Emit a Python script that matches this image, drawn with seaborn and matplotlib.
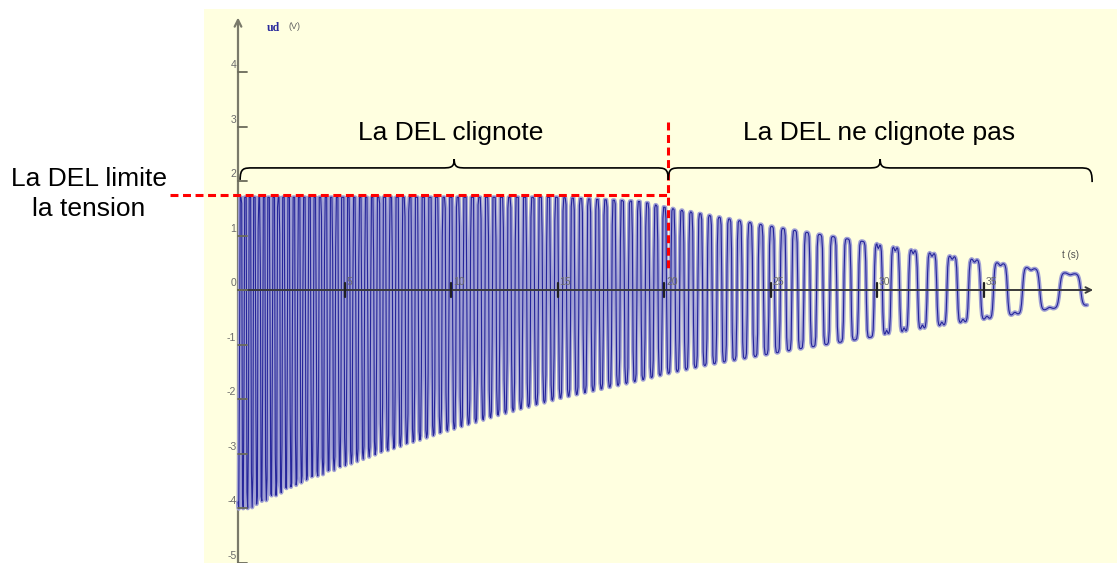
import numpy as np
import pandas as pd
import matplotlib
matplotlib.use("Agg")
import matplotlib.pyplot as plt
import seaborn as sns
from matplotlib.patches import Rectangle, PathPatch
from matplotlib.path import Path

# ---------------- data ----------------
# envelope of ud(t): time (s), upper and lower extremes (V)
env_t = [0.0, 0.6, 3.2, 6.3, 9.4, 12.2, 15.0, 19.0, 20.0, 22.7, 26.2, 30.0, 33.3, 35.6, 37.0, 38.5, 39.9]
env_upper = [1.70, 1.70, 1.70, 1.70, 1.70, 1.70, 1.70, 1.62, 1.52, 1.33, 1.09, 0.85, 0.64, 0.51, 0.42, 0.33, 0.28]
env_lower = [-4.05, -4.00, -3.50, -3.04, -2.64, -2.30, -2.00, -1.65, -1.55, -1.32, -1.06, -0.82, -0.62, -0.49, -0.40, -0.29, -0.27]
# local oscillation period (s) read from peak spacing
period_t = [0.0, 5.0, 10.0, 15.0, 20.0, 23.0, 26.0, 29.0, 30.5, 32.5, 34.0, 35.2, 36.5, 38.5, 40.0]
period_s = [0.21, 0.27, 0.33, 0.38, 0.40, 0.47, 0.55, 0.70, 0.80, 0.90, 1.03, 1.22, 1.41, 1.97, 2.0]
peak_ref_t = 30.06          # one peak centre read on the picture
t_end = 39.9
y_ticks = [-5, -4, -3, -2, -1, 0, 1, 2, 3, 4]
x_ticks = [5, 10, 15, 20, 25, 30, 35]
clip_level = 1.75           # red dashed line: LED limits the voltage
split_t = 20.2              # red dashed vertical separator

# ---------------- build the sampled signal ----------------
dt = 0.035
tt = np.arange(0.0, t_end, dt)
per = np.interp(tt, period_t, period_s)
phase = np.cumsum(dt / per)
phase -= np.interp(peak_ref_t, tt, phase)
theta = 2 * np.pi * phase + np.pi / 2
up = np.interp(tt, env_t, env_upper)
lo = np.interp(tt, env_t, env_lower)
amp = np.maximum(-lo, up)
k = np.interp(tt, [0, 15, 24, 40], [2.2, 2.4, 3.0, 3.5])
s = np.tanh(k * np.sin(theta)) / np.tanh(k)
s = s - 0.10 * np.sign(np.sin(theta)) * np.abs(np.sin(theta)) ** 10 * (tt > 30)
ud = np.minimum(amp * s, up)
df = pd.DataFrame({"t": tt, "ud": ud})

# ---------------- figure ----------------
sns.set_style("white")
plt.rcParams["font.family"] = ["Liberation Sans", "DejaVu Sans"]
plt.rcParams["text.color"] = "black"

W, H = 1117, 563
fig = plt.figure(figsize=(W / 100, H / 100), dpi=100)
fig.patch.set_facecolor("white")
ax = fig.add_axes([0, 0, 1, 1])
ax.set_facecolor("none")
ax.add_patch(Rectangle((204 / W, 0), (W - 204) / W, (H - 9) / H,
                       transform=ax.transAxes, facecolor="#ffffe0",
                       edgecolor="none", zorder=0))
x0px, y0px, sx, sy = 238, 290, 21.3, 54.5

# signal: soft halo + dark core, like the original screen capture
sns.lineplot(data=df, x="t", y="ud", ax=ax, color="#a0a0d4", linewidth=3.0,
             estimator=None, sort=False, zorder=3, legend=False)
sns.lineplot(data=df, x="t", y="ud", ax=ax, color="#25259a", linewidth=0.8,
             estimator=None, sort=False, zorder=3, legend=False)
ax.axis("off")
ax.set_xlim(-x0px / sx, (W - x0px) / sx)
ax.set_ylim((y0px - H) / sy, y0px / sy)

# axes lines
ax.annotate("", xy=(0, 5.0), xytext=(0, -5.0),
            arrowprops=dict(arrowstyle="->", color="#7a7a6a", lw=1.6,
                            mutation_scale=12, shrinkA=0, shrinkB=0), zorder=2)
ax.annotate("", xy=(40.15, 0), xytext=(0, 0),
            arrowprops=dict(arrowstyle="->", color="#3a3a3a", lw=1.4,
                            mutation_scale=10, shrinkA=0, shrinkB=0), zorder=4)
for v in y_ticks:
    ax.plot([0, 0.42], [v, v], color="#6a6a5a", lw=1.3, zorder=4)
    ax.text(-0.08, v + 0.03, f"{v}", ha="right", va="bottom", fontsize=7.5,
            color="#6a6a6a", zorder=4)
for v in x_ticks:
    ax.plot([v, v], [-0.13, 0.13], color="#202020", lw=1.6, zorder=4)
    ax.text(v + 0.1, 0.06, f"{v}", ha="left", va="bottom", fontsize=7.5,
            color="#6a6a6a", zorder=4)
ax.text(1.35, 4.70, "ud", fontsize=8.5, fontweight="bold", color="#2a2a9c",
        family=["Liberation Serif", "DejaVu Serif"], ha="left", va="bottom")
ax.text(2.35, 4.76, "(V)", fontsize=6.5, color="#606060", ha="left", va="bottom")
ax.text(39.1, 0.55, "t (s)", fontsize=7, color="#505050", ha="center", va="bottom")

# red dashed lines
ax.plot([(170 - x0px) / sx, split_t], [clip_level, clip_level], color="#ff0000",
        lw=2.2, linestyle=(0, (2.6, 1.5)), zorder=5)
ax.plot([split_t, split_t], [3.08, 0.37], color="#ff0000",
        lw=2.2, linestyle=(0, (2.6, 1.5)), zorder=5)


def brace(x1, x2, y_end1, y_end2, y_h, y_tip, w=0.6):
    m = 0.5 * (x1 + x2)
    verts = [(x1, y_end1), (x1, y_h), (x1 + w * 0.3, y_h), (x1 + w, y_h),
             (m - w, y_h),
             (m - w * 0.3, y_h), (m, y_h), (m, y_tip),
             (m, y_h), (m + w * 0.3, y_h), (m + w, y_h),
             (x2 - w, y_h),
             (x2 - w * 0.3, y_h), (x2, y_h), (x2, y_end2)]
    codes = [Path.MOVETO, Path.CURVE4, Path.CURVE4, Path.CURVE4,
             Path.LINETO,
             Path.CURVE4, Path.CURVE4, Path.CURVE4,
             Path.CURVE4, Path.CURVE4, Path.CURVE4,
             Path.LINETO,
             Path.CURVE4, Path.CURVE4, Path.CURVE4]
    ax.add_patch(PathPatch(Path(verts, codes), facecolor="none",
                           edgecolor="black", lw=1.2, zorder=5))


brace(0.1, 20.2, 2.02, 2.02, 2.24, 2.40)
brace(20.2, 40.1, 2.02, 1.98, 2.24, 2.40)

ax.text(10.0, 2.75, "La DEL clignote", fontsize=19, ha="center", va="baseline", color="black")
ax.text(30.1, 2.75, "La DEL ne clignote pas", fontsize=19, ha="center", va="baseline", color="black")
ax.text((89 - x0px) / sx, (y0px - 186.5) / sy, "La DEL limite", fontsize=19,
        ha="center", va="baseline", color="black")
ax.text((89 - x0px) / sx, (y0px - 216.5) / sy, "la tension", fontsize=19,
        ha="center", va="baseline", color="black")

fig.savefig("out.png", dpi=100)
